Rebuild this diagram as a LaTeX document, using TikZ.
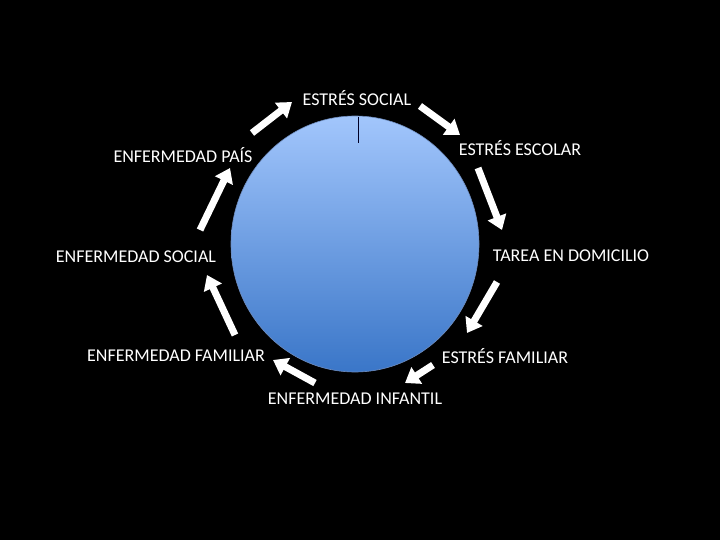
\documentclass[tikz,border=0pt]{standalone}
\usepackage{fontspec}
\setmainfont{Carlito}
\usetikzlibrary{arrows.meta,shapes.geometric}
\begin{document}
\begin{tikzpicture}[x=1pt,y=-1pt,
  lbl/.style={text=white,font=\fontsize{18}{21}\selectfont,inner sep=0pt},
  blk/.style={white,line width=7pt,-{Triangle[length=14pt,width=19pt]}}]
\fill[black] (0,0) rectangle (720,540);
\useasboundingbox (0,0) rectangle (720,540);
\node[ellipse,minimum width=248pt,minimum height=256pt,inner sep=0pt,
  top color={rgb,255:red,162;green,198;blue,252},
  bottom color={rgb,255:red,58;green,118;blue,200},
  draw={rgb,255:red,110;green,140;blue,190},line width=0.6pt] (c) at (355,244) {};
\draw[black!85!blue,line width=1pt] (358,117) -- (358,143);
\node[lbl] (es) at (357,98) {ESTRÉS SOCIAL};
\node[lbl] (ee) at (520,148) {ESTRÉS ESCOLAR};
\node[lbl] (ep) at (183,155) {ENFERMEDAD PAÍS};
\node[lbl] (eso) at (136,257) {ENFERMEDAD SOCIAL};
\node[lbl] (td) at (571,256) {TAREA EN DOMICILIO};
\node[lbl] (ef) at (176,356) {ENFERMEDAD FAMILIAR};
\node[lbl] (estf) at (505,356) {ESTRÉS FAMILIAR};
\node[lbl] (ei) at (355,399) {ENFERMEDAD INFANTIL};
\coordinate (a1) at (252,133); \coordinate (b1) at (292,102);
\coordinate (a2) at (420,106); \coordinate (b2) at (460,135);
\coordinate (a3) at (478,168); \coordinate (b3) at (502,230);
\coordinate (a4) at (497,282); \coordinate (b4) at (467,333);
\coordinate (a5) at (433,365); \coordinate (b5) at (405,383);
\coordinate (a6) at (315,383); \coordinate (b6) at (273,360);
\coordinate (a7) at (235,335); \coordinate (b7) at (207,275);
\coordinate (a8) at (200,230); \coordinate (b8) at (230,168);
\foreach \i in {1,...,8} {\draw[blk] (a\i) -- (b\i);}
\end{tikzpicture}
\end{document}
